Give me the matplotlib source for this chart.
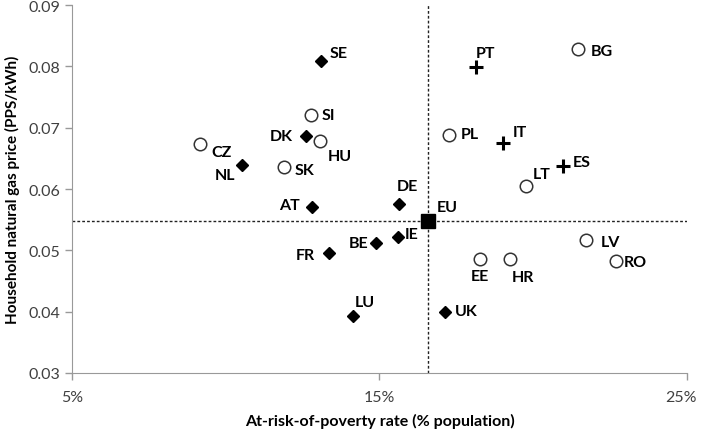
import numpy as np
import matplotlib
matplotlib.use("Agg")
import matplotlib.pyplot as plt
from matplotlib.ticker import FuncFormatter
from matplotlib.transforms import ScaledTranslation

plt.rcParams['font.family'] = ['Lato', 'DejaVu Sans']

# at-risk-of-poverty rate (%) and household gas price (PPS/kWh)
dia_names = ["SE", "DK", "NL", "AT", "FR", "LU", "BE", "IE", "DE", "UK"]
dia_x = [13.10, 12.61, 10.53, 12.80, 13.36, 14.14, 14.89, 15.60, 15.63, 17.13]
dia_y = [0.0809, 0.0686, 0.0639, 0.0571, 0.0496, 0.0393, 0.0512, 0.0522, 0.0576, 0.0399]

circ_names = ["SI", "HU", "CZ", "SK", "EE", "HR", "LV", "RO", "BG", "PL", "LT"]
circ_x = [12.77, 13.07, 9.16, 11.89, 18.27, 19.24, 21.72, 22.69, 21.46, 17.26, 19.76]
circ_y = [0.0721, 0.0678, 0.0673, 0.0636, 0.0486, 0.0486, 0.0517, 0.0483, 0.0828, 0.0688, 0.0605]

plus_names = ["PT", "IT", "ES"]
plus_x = [18.14, 19.02, 20.97]
plus_y = [0.0799, 0.0675, 0.0637]

eu_x = 16.58
eu_y = 0.0548

# label offsets in pixels (dx, dy, ha)
offsets = {
    "SE": (9, 8, "left"), "DK": (-13, 0, "right"), "NL": (-7, -10, "right"),
    "AT": (-12, 2, "right"), "FR": (-14, -2, "right"), "LU": (2, 14, "left"),
    "BE": (-8, 0, "right"), "IE": (7, 3, "left"), "DE": (-2, 18, "left"),
    "UK": (10, 1, "left"), "SI": (11, 0, "left"), "HU": (8, -15, "left"),
    "CZ": (11, -8, "left"), "SK": (11, -3, "left"), "EE": (0, -17, "center"),
    "HR": (13, -18, "center"), "LV": (15, -2, "left"), "RO": (8, -1, "left"),
    "BG": (13, -2, "left"), "PL": (12, 1, "left"), "LT": (7, 12, "left"),
    "PT": (0, 14, "left"), "IT": (10, 11, "left"), "ES": (10, 4, "left"),
    "EU": (9, 14, "left"),
}

fig = plt.figure(figsize=(7.01, 4.31), dpi=100)
ax = fig.add_axes([0.1027, 0.1323, 0.8773, 0.8537])

ax.axvline(eu_x, color='#222222', ls=(0, (2, 1.5)), lw=1, zorder=1)
ax.axhline(eu_y, color='#222222', ls=(0, (2, 1.5)), lw=1, zorder=1)

ax.plot(dia_x, dia_y, 'D', color='black', ms=6.5, ls='none', zorder=3)
ax.plot(circ_x, circ_y, 'o', mfc='white', mec='#333333', mew=1.1, ms=9, ls='none', zorder=3)
ax.plot(plus_x, plus_y, '+', color='black', mew=2.2, ms=10, ls='none', zorder=3)
ax.plot([eu_x], [eu_y], 's', color='black', ms=10.5, zorder=4)

allpts = list(zip(dia_names, dia_x, dia_y)) + list(zip(circ_names, circ_x, circ_y)) \
    + list(zip(plus_names, plus_x, plus_y)) + [("EU", eu_x, eu_y)]
for name, x, y in allpts:
    dx, dy, ha = offsets[name]
    ax.annotate(name, (x, y), xytext=(dx, dy), textcoords='offset pixels',
                ha=ha, va='center', fontsize=11.5, fontweight='bold', color='black')

ax.set_xlim(5, 25)
ax.set_ylim(0.03, 0.09)
ax.set_xticks([5, 15, 25])
ax.set_yticks([0.03, 0.04, 0.05, 0.06, 0.07, 0.08, 0.09])
ax.xaxis.set_major_formatter(FuncFormatter(lambda v, p: f"{v:.0f}%"))
ax.yaxis.set_major_formatter(FuncFormatter(lambda v, p: f"{v:.2f}"))
ax.tick_params(colors='#999999', labelcolor='#404040', labelsize=11.5, length=5, width=1)
ax.tick_params(axis='x', pad=7)

# keep the last x tick label inside the figure
last = ax.get_xticklabels()[-1]
last.set_transform(last.get_transform() + ScaledTranslation(-4 / 72, 0, fig.dpi_scale_trans))

for s in ['top', 'right']:
    ax.spines[s].set_visible(False)
for s in ['left', 'bottom']:
    ax.spines[s].set_color('#999999')

ax.set_xlabel("At-risk-of-poverty rate (% population)", fontsize=11.5, fontweight='bold', labelpad=7)
ax.set_ylabel("Household natural gas price (PPS/kWh)", fontsize=11, fontweight='bold', labelpad=6)

fig.savefig("out.png", dpi=100)
